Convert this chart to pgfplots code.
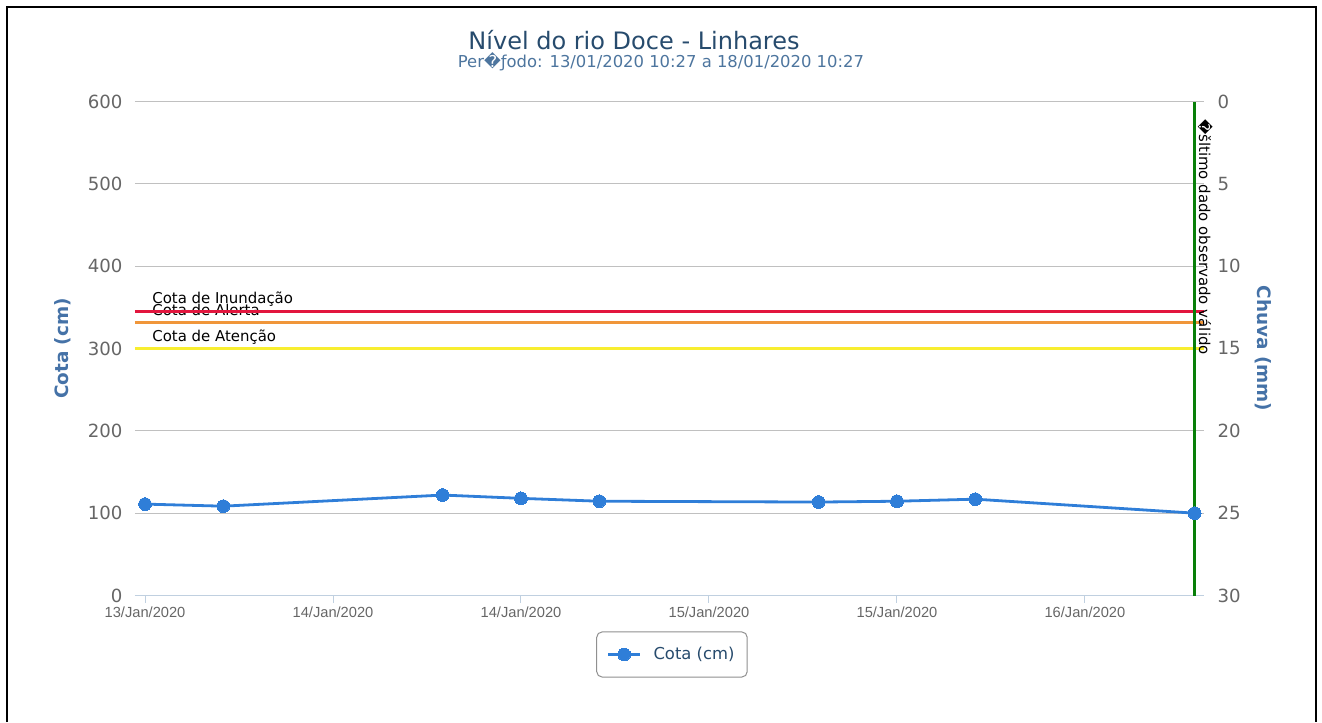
\documentclass[border=0pt]{standalone}
\usepackage{pgfplots}
\pgfplotsset{compat=1.18}
\usepackage{fontspec}
\setmainfont{DejaVu Sans}
\newfontfamily\arialfont{Liberation Sans}
\definecolor{titlec}{HTML}{274B6D}
\definecolor{subc}{HTML}{4D759E}
\definecolor{axtitle}{HTML}{4572A7}
\definecolor{tickc}{HTML}{666666}
\definecolor{gridc}{HTML}{C0C0C0}
\definecolor{xaxc}{HTML}{C0D0E0}
\definecolor{series}{HTML}{2F7ED8}
\definecolor{inund}{HTML}{E2163E}
\definecolor{alerta}{HTML}{F0963A}
\definecolor{atencao}{HTML}{F8EE30}
\definecolor{lastc}{HTML}{087F08}
\definecolor{legc}{HTML}{909090}
\newcommand{\lblfont}{\fontsize{11.2}{13}\selectfont}
\begin{document}
\begin{tikzpicture}
\useasboundingbox (0,0) rectangle (991.5pt,541.5pt);
\draw[line width=2pt] (5.25pt,0pt) -- (5.25pt,536.25pt) -- (987pt,536.25pt) -- (987pt,0pt);
\node[anchor=base, inner sep=0pt, font=\fontsize{18}{20}\selectfont, text=titlec] at (475.5pt,504pt) {Nível do rio Doce - Linhares};
\node[anchor=base, inner sep=0pt, font=\fontsize{12.3}{14}\selectfont, text=subc] at (495.75pt,491pt) {Per\symbol{"FFFD}\symbol{"0192}odo: 13/01/2020 10:27 a 18/01/2020 10:27};

\begin{axis}[
  at={(101.25pt,94.875pt)}, anchor=south west,
  scale only axis, width=801.75pt, height=370.5pt,
  xmin=-0.64, xmax=67.6, ymin=0, ymax=600,
  clip=false,
  ytick={0,100,...,600},
  xtick={0,12,24,36,48,60},
  xticklabels={13/Jan/2020,14/Jan/2020,14/Jan/2020,15/Jan/2020,15/Jan/2020,16/Jan/2020},
  axis x line*=bottom, axis y line*=left,
  y axis line style={draw=none},
  x axis line style={draw=xaxc, line width=0.75pt, -},
  tick align=outside, major tick length=5.25pt,
  xtick style={draw=xaxc, line width=0.75pt},
  ytick style={draw=none},
  ymajorgrids, grid style={gridc, line width=0.75pt},
  /pgf/number format/assume math mode=true,
  yticklabel style={font=\fontsize{13.6}{15}\selectfont, text=tickc, anchor=east, inner sep=0pt, xshift=-4pt},
  xticklabel style={font=\arialfont\fontsize{11}{12}\selectfont, text=tickc, anchor=north, inner sep=0pt, yshift=-2.8pt},
  ylabel={Cota (cm)},
  ylabel style={at={(axis description cs:-0.0678,0.5)}, anchor=center, font=\bfseries\fontsize{13.8}{15}\selectfont, text=axtitle},
  legend style={at={(axis description cs:0.5023,-0.1194)}, anchor=center, draw=legc, rounded corners=4pt, line width=0.75pt, font=\fontsize{12.3}{14}\selectfont, text=titlec, inner xsep=7.5pt, inner ysep=9.5pt, /tikz/every odd column/.append style={column sep=7pt}},
  legend image code/.code={\draw[#1, mark repeat=2, mark phase=2] plot coordinates {(0pt,0pt) (12pt,0pt) (24pt,0pt)};},
]
\node[anchor=base west, inner sep=0pt, font=\lblfont] at ([yshift=6pt]axis cs:0.45,345) {Cota de Inundação};
\node[anchor=base west, inner sep=0pt, font=\lblfont] at ([yshift=5.25pt]axis cs:0.45,332) {Cota de Alerta};
\node[anchor=base west, inner sep=0pt, font=\lblfont] at ([yshift=5.6pt]axis cs:0.45,300) {Cota de Atenção};
\addplot[forget plot, inund, line width=2.2pt] coordinates {(-0.64,345) (67.6,345)};
\addplot[forget plot, alerta, line width=2.2pt] coordinates {(-0.64,332) (67.6,332)};
\addplot[forget plot, atencao, line width=2.2pt] coordinates {(-0.64,300) (67.6,300)};
\addplot[series, line width=2.1pt, mark=*, mark size=4.8pt, mark options={fill=series, draw=series, line width=0pt}]
  coordinates {(0,111) (5,108.5) (19,122) (24,118) (29,114.5) (43,113.5) (48,114.5) (53,117) (67,100)};
\addlegendentry{Cota (cm)}
\addplot[forget plot, lastc, line width=2.2pt] coordinates {(67,0) (67,600)};
\node[rotate=-90, anchor=base west, inner sep=0pt, font=\lblfont] at ([xshift=3.4pt,yshift=-13pt]axis cs:67,600) {\symbol{"FFFD}šltimo dado observado válido};
\end{axis}

\begin{axis}[
  at={(101.25pt,94.875pt)}, anchor=south west,
  scale only axis, width=801.75pt, height=370.5pt,
  xmin=-0.64, xmax=67.6, ymin=0, ymax=30, y dir=reverse,
  ytick={0,5,...,30},
  hide x axis,
  axis y line*=right,
  y axis line style={draw=none},
  ytick style={draw=none},
  /pgf/number format/assume math mode=true,
  yticklabel style={font=\fontsize{13.6}{15}\selectfont, text=tickc, anchor=west, inner sep=0pt, xshift=10pt},
  ylabel={Chuva (mm)},
  every axis y label/.style={at={(axis description cs:1.0552,0.5)}, anchor=center, rotate=-90, font=\bfseries\fontsize{13.8}{15}\selectfont, text=axtitle},
]
\addplot[draw=none, forget plot] coordinates {(0,0) (67,30)};
\end{axis}
\end{tikzpicture}
\end{document}
